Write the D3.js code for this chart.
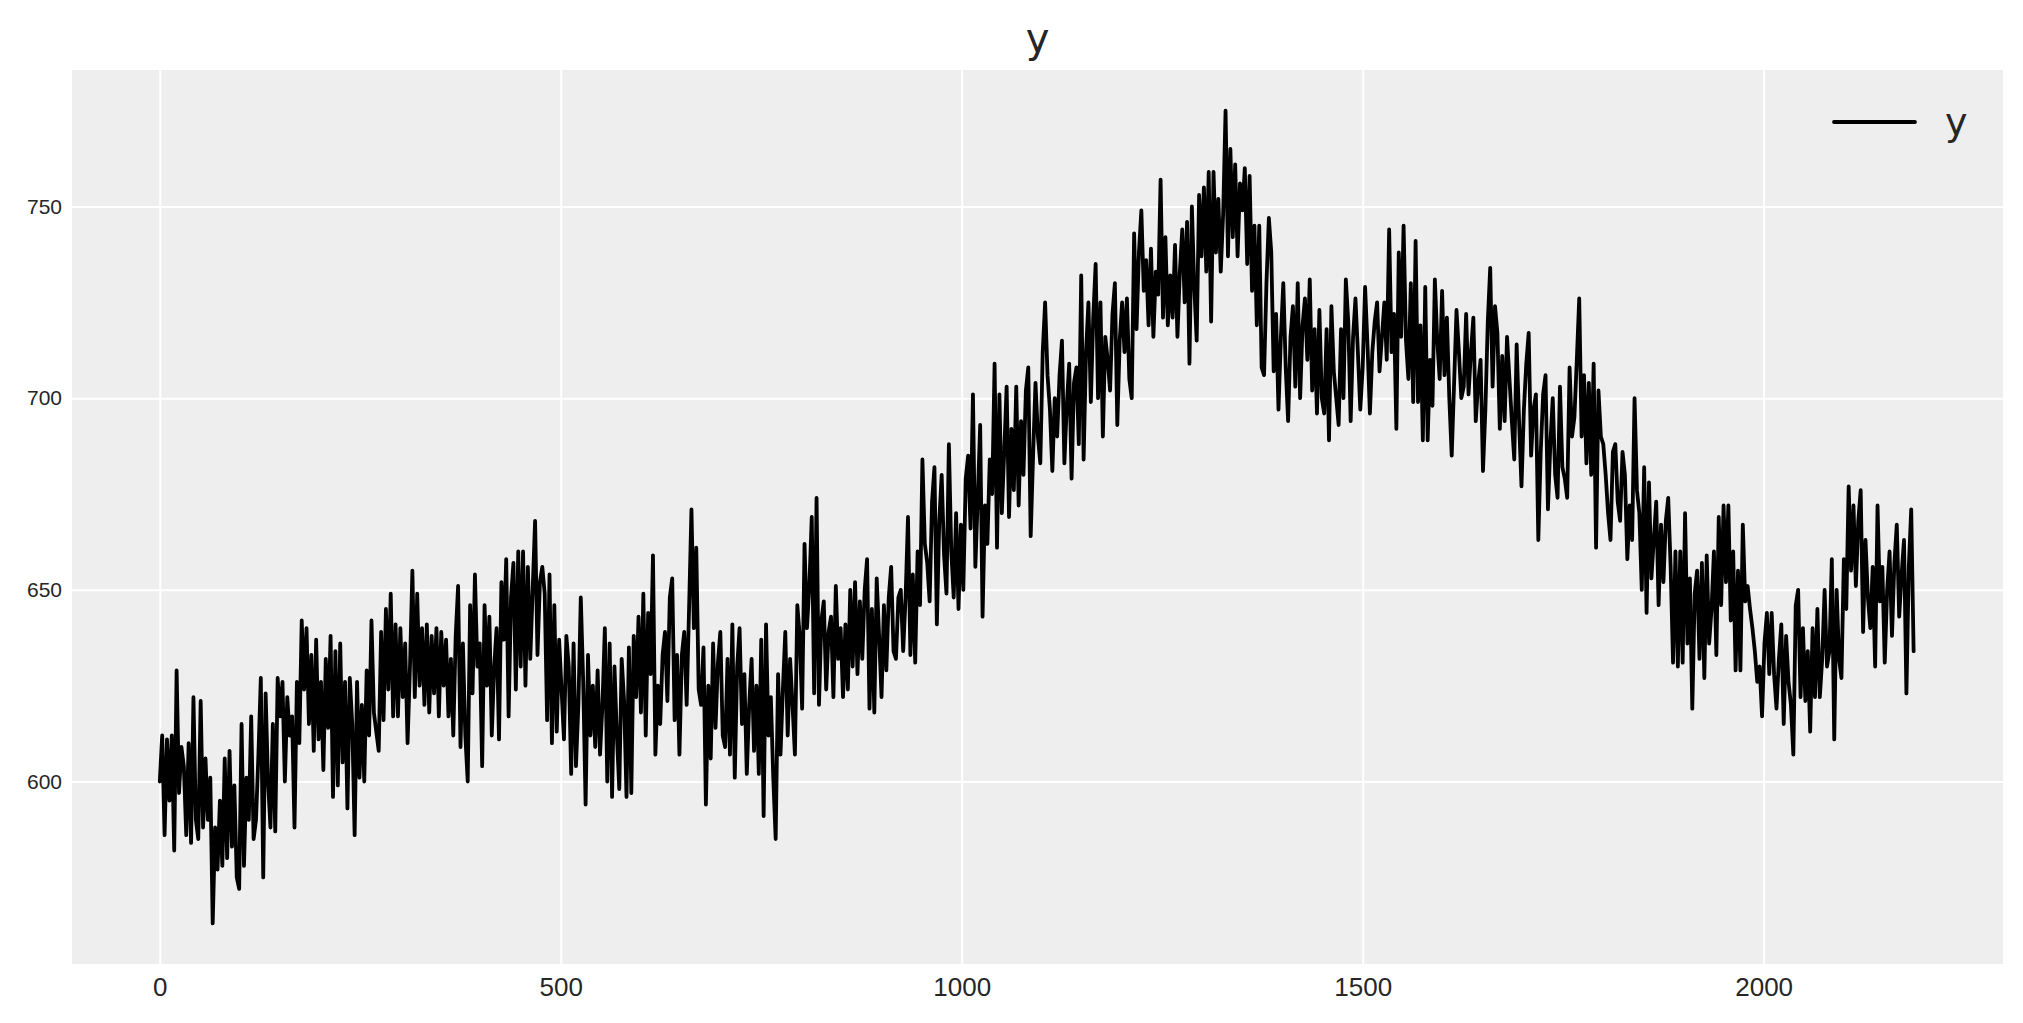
<!DOCTYPE html>
<html><head><meta charset="utf-8">
<script src="https://cdn.jsdelivr.net/npm/d3@7"></script>
<style>body{margin:0;background:#fff}svg{display:block}</style>
</head><body>
<script>
const chartTitle = "y";
const seriesName = "y";
const nObs = 2190;          // observations 0 .. 2189
const sampleStep = 3;       // observation spacing of the values below
const yValues = [
600,612,586,611,595,612,582,629,597,609,
604,586,610,584,622,590,585,621,588,606,
590,601,563,588,577,595,578,606,580,608,
583,599,575,572,615,578,601,590,617,585,
590,607,627,575,623,600,588,615,587,627,
617,626,600,622,612,617,588,626,610,642,
624,640,615,633,608,637,611,626,603,632,
614,638,596,634,599,636,605,626,593,627,
615,586,626,601,620,600,629,612,642,618,
613,608,639,616,645,624,649,617,641,617,
640,622,636,610,630,655,622,649,625,640,
620,641,618,638,623,640,617,639,625,637,
617,632,612,638,651,609,636,612,600,646,
623,654,630,636,604,646,625,643,612,630,
640,611,652,637,658,617,648,657,624,660,
630,660,625,656,632,650,668,633,652,656,
649,616,654,610,646,613,637,624,611,638,
630,602,636,604,620,648,626,594,633,612,
625,609,629,607,620,640,600,636,596,630,
612,598,632,621,596,635,597,638,622,643,
618,649,612,644,628,659,607,625,615,633,
639,621,648,653,616,633,607,633,639,620,
645,671,640,661,624,620,635,594,625,606,
636,614,631,639,612,609,632,607,641,601,
630,640,615,628,602,620,632,608,625,602,
637,591,641,612,622,601,585,628,607,624,
639,612,632,620,607,646,638,619,662,640,
651,669,623,674,620,642,647,624,639,643,
622,651,632,640,622,641,624,650,630,652,
628,647,632,650,658,619,645,618,653,638,
622,646,629,648,656,634,632,648,650,634,
648,669,633,654,631,660,646,684,662,657,
647,673,682,641,668,680,659,649,688,660,
648,670,645,667,650,679,685,666,701,656,
674,693,643,672,662,684,675,709,661,701,
670,686,703,669,692,676,703,672,694,680,
702,708,664,685,704,690,683,712,725,706,
697,681,700,690,706,715,683,698,709,679,
704,708,688,732,684,712,725,699,721,735,
700,725,690,716,710,702,722,730,693,715,
725,712,726,705,700,743,718,738,749,728,
736,719,739,716,733,727,757,721,742,719,
732,721,740,716,733,744,725,746,709,750,
729,715,753,737,755,733,759,720,759,738,
752,733,748,775,737,765,742,761,737,756,
749,760,735,758,728,745,719,745,708,706,
730,747,738,707,722,697,716,730,708,694,
716,724,703,730,700,719,726,710,731,702,
718,696,723,700,696,718,689,724,707,700,
693,718,700,731,720,694,716,726,712,697,
708,729,714,696,712,720,725,707,716,725,
710,744,712,722,692,738,716,745,715,705,
730,699,741,699,719,689,729,689,710,698,
731,715,705,728,706,721,700,685,704,723,
712,700,703,722,701,712,721,694,704,710,
681,697,720,734,703,724,717,692,711,694,
716,705,694,684,714,694,677,697,709,717,
685,697,701,663,686,701,706,671,688,700,
680,674,703,682,679,674,708,690,695,710,
726,690,706,683,704,680,709,661,702,690,
688,680,670,663,686,688,673,668,686,680,
658,672,663,700,676,670,650,682,644,678,
653,663,673,646,667,652,668,674,656,631,
660,630,660,631,670,636,653,619,649,655,
632,657,627,659,636,645,660,633,669,646,
672,652,672,642,660,629,655,629,667,647,
651,645,640,634,626,630,617,636,644,628,
644,628,619,632,641,615,638,626,620,607,
646,650,622,640,621,634,613,640,622,645,
622,632,650,630,634,658,611,650,632,627,
658,645,677,655,672,651,668,676,639,663,
648,640,656,630,672,647,656,631,650,660,
638,657,667,643,654,663,623,656,671,634
];
const xTickValues = [0, 500, 1000, 1500, 2000];
const yTickValues = [600, 650, 700, 750];

// ---- layout ----
const W = 2023, H = 1023;
const plot = {left: 72, right: 2003, top: 70, bottom: 964};
const points = yValues.map((v, i) => ({x: i * sampleStep, y: v}));

const svg = d3.select("body").append("svg").attr("width", W).attr("height", H)
  .style("font-family", "'DejaVu Sans', sans-serif");

const xLast = nObs - 1;
const x = d3.scaleLinear()
  .domain([-0.05 * xLast, xLast * 1.05])
  .range([plot.left, plot.right]);
const [yMin, yMax] = d3.extent(yValues);
const yPad = 0.05 * (yMax - yMin);
const y = d3.scaleLinear()
  .domain([yMin - yPad, yMax + yPad])
  .range([plot.bottom, plot.top]);

svg.append("rect")
  .attr("x", plot.left).attr("y", plot.top)
  .attr("width", plot.right - plot.left).attr("height", plot.bottom - plot.top)
  .attr("fill", "#eeeeee");

// grid
const gx = svg.append("g").attr("transform", `translate(0,${plot.bottom})`)
  .call(d3.axisBottom(x).tickValues(xTickValues).tickSize(-(plot.bottom - plot.top)).tickPadding(14).tickFormat(d3.format("d")));
gx.select(".domain").remove();
gx.selectAll("line").attr("stroke", "#ffffff").attr("stroke-width", 2);
gx.selectAll("text").attr("font-size", 26).attr("fill", "#262626").attr("dy", "0.71em");

const gy = svg.append("g").attr("transform", `translate(${plot.left},0)`)
  .call(d3.axisLeft(y).tickValues(yTickValues).tickSize(-(plot.right - plot.left)).tickPadding(10).tickFormat(d3.format("d")));
gy.select(".domain").remove();
gy.selectAll("line").attr("stroke", "#ffffff").attr("stroke-width", 2);
gy.selectAll("text").attr("font-size", 21).attr("fill", "#262626");

// series
const line = d3.line().x(d => x(d.x)).y(d => y(d.y));
svg.append("path").datum(points)
  .attr("d", line)
  .attr("fill", "none")
  .attr("stroke", "#000000")
  .attr("stroke-width", 3.8)
  .attr("stroke-linejoin", "round")
  .attr("stroke-linecap", "round");

// title
svg.append("text")
  .attr("x", (plot.left + plot.right) / 2).attr("y", 52)
  .attr("text-anchor", "middle")
  .attr("font-size", 40).attr("fill", "#262626")
  .text(chartTitle);

// legend
const lg = svg.append("g");
lg.append("line")
  .attr("x1", 1834).attr("x2", 1915).attr("y1", 122).attr("y2", 122)
  .attr("stroke", "#000").attr("stroke-width", 3.8).attr("stroke-linecap", "round");
lg.append("text")
  .attr("x", 1945).attr("y", 135)
  .attr("font-size", 38).attr("fill", "#262626")
  .text(seriesName);
</script>
</body></html>
